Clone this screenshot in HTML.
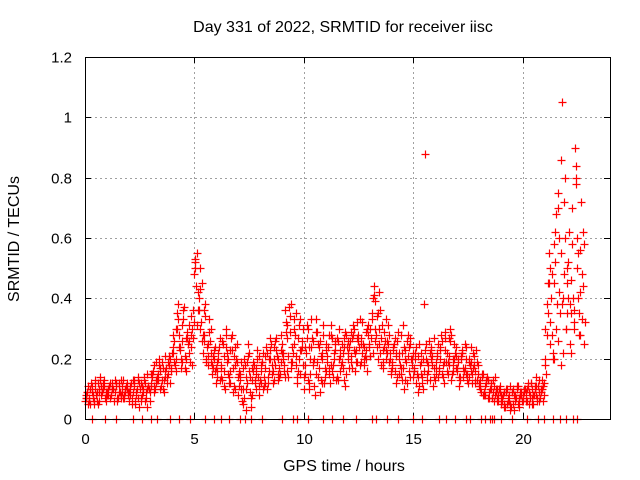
<!DOCTYPE html>
<html><head><meta charset="utf-8"><style>
body{margin:0;background:#fff}
svg{display:block;font-family:"Liberation Sans",sans-serif}
</style></head><body>
<svg id="chart" width="640" height="480">
<text x="343" y="32" font-size="16" text-anchor="middle">Day 331 of 2022, SRMTID for receiver iisc</text>
<text x="344" y="471" font-size="16" text-anchor="middle">GPS time / hours</text>
<text x="0" y="0" font-size="16" text-anchor="middle" transform="translate(19,239) rotate(-90)">SRMTID / TECUs</text>
<g id="grid"></g><g id="ticks"></g><g id="marks"></g>
<rect x="85.5" y="57.5" width="525" height="362" fill="none" stroke="#000" stroke-width="1"/>
</svg>
<script>
const xTicks=[0,5,10,15,20];
const yTicks=[0,0.2,0.4,0.6,0.8,1,1.2];
const yTickLabels=["0","0.2","0.4","0.6","0.8","1","1.2"];
const seriesA=[.06,.09,.07,.11,.05,.08,.12,.14,.10,.07,.09,.11,.08,.10,.12,.07,.09,.11,.08,.10,.06,.12,.09,.05,.14,.10,.08,.13,.07,.11,.12,.16,.10,.14,.18,.13,.09,.17,.15,.20,.22,.18,.35,.28,.20,.33,.16,.25,.19,.30,.48,.55,.40,.32,.22,.38,.18,.26,.15,.20,.12,.22,.17,.25,.10,.19,.14,.28,.11,.20,.08,.15,.05,.18,.12,.22,.07,.16,.10,.14,.13,.19,.11,.22,.16,.25,.12,.18,.20,.15,.25,.18,.32,.14,.38,.22,.28,.12,.20,.26,.10,.22,.30,.15,.26,.08,.19,.24,.13,.28,.16,.24,.12,.27,.20,.14,.30,.18,.22,.11,.20,.26,.17,.30,.23,.28,.19,.25,.21,.16,.24,.33,.44,.28,.20,.36,.17,.26,.22,.19,.15,.24,.12,.29,.18,.22,.10,.26,.16,.20,.14,.22,.09,.18,.12,.38,.20,.16,.24,.11,.13,.21,.17,.26,.12,.19,.15,.30,.18,.22,.16,.11,.20,.14,.24,.12,.18,.15,.21,.13,.12,.09,.15,.08,.13,.10,.07,.11,.09,.06,.05,.08,.04,.10,.06,.09,.03,.07,.11,.08,.07,.10,.06,.09,.12,.05,.08,.11,.07,.10,.12,.28,.55,.40,.20,.62,.75,.35,1.05,.48,.30,.52,.22,.40,.90,.60,.35,.48,.25];
const seriesB=[.08,.05,.10,.07,.12,.09,.06,.11,.13,.08,.10,.07,.12,.09,.06,.11,.08,.13,.10,.09,.11,.07,.13,.09,.04,.12,.10,.06,.15,.09,.14,.11,.19,.13,.16,.10,.21,.14,.18,.16,.26,.20,.38,.24,.31,.17,.27,.22,.28,.36,.53,.42,.30,.45,.26,.19,.33,.22,.17,.24,.16,.27,.13,.21,.30,.15,.23,.09,.18,.25,.11,.19,.07,.14,.25,.09,.17,.12,.20,.08,.16,.10,.21,.14,.27,.18,.13,.23,.17,.28,.20,.36,.16,.29,.24,.33,.18,.27,.15,.30,.18,.27,.12,.33,.20,.15,.25,.09,.22,.17,.21,.15,.28,.18,.25,.13,.23,.19,.27,.15,.24,.19,.31,.22,.27,.18,.32,.24,.20,.28,.30,.22,.39,.34,.25,.18,.29,.23,.31,.20,.19,.27,.14,.22,.17,.31,.13,.21,.25,.18,.17,.12,.25,.15,.20,.88,.13,.22,.18,.27,.19,.14,.24,.18,.29,.16,.21,.13,.25,.17,.20,.14,.23,.17,.13,.19,.16,.22,.12,.18,.10,.14,.08,.12,.07,.10,.13,.08,.06,.09,.07,.04,.09,.06,.11,.05,.08,.10,.06,.09,.09,.06,.11,.08,.05,.10,.07,.13,.09,.06,.18,.35,.25,.48,.58,.30,.42,.86,.22,.60,.45,.38,.70,.32,.84,.55,.28,.62];
const seriesC=[.07,.10,.06,.09,.11,.08,.10,.12,.07,.09,.09,.12,.07,.11,.10,.15,.12,.17,.13,.18,.24,.30,.19,.27,.34,.50,.36,.28,.21,.18,.19,.14,.24,.12,.21,.16,.10,.19,.13,.17,.18,.12,.20,.24,.15,.22,.31,.19,.35,.23,.14,.24,.19,.29,.12,.23,.18,.26,.20,.24,.22,.27,.19,.25,.29,.21,.41,.30,.23,.26,.17,.22,.15,.20,.24,.16,.21,.14,.19,.23,.15,.23,.19,.27,.20,.17,.22,.15,.19,.16,.11,.08,.13,.07,.10,.06,.09,.05,.08,.07,.08,.10,.07,.11,.09,.30,.45,.20,.70,.38,.50,.35,.80,.42,.58];
const seriesD=[.09,.06,.12,.08,.10,.05,.13,.09,.11,.06,.11,.08,.10,.13,.07,.12,.09,.07,.11,.08,.08,.13,.06,.10,.12,.07,.14,.09,.11,.06,.15,.09,.13,.20,.11,.17,.14,.19,.12,.22,.19,.30,.24,.17,.36,.21,.29,.26,.18,.32,.44,.36,.50,.28,.34,.24,.29,.19,.23,.17,.20,.13,.26,.16,.22,.12,.27,.17,.24,.14,.13,.06,.20,.10,.16,.04,.19,.13,.23,.11,.19,.14,.24,.12,.20,.16,.26,.21,.14,.23,.16,.29,.21,.34,.19,.25,.14,.31,.23,.18,.24,.13,.20,.27,.11,.29,.17,.21,.31,.14,.19,.28,.16,.22,.13,.26,.21,.17,.29,.24,.17,.29,.23,.19,.26,.33,.22,.18,.30,.25,.27,.40,.26,.35,.22,.31,.24,.20,.28,.16,.23,.16,.26,.20,.13,.24,.19,.28,.14,.22,.20,.15,.11,.22,.16,.25,.18,.13,.21,.17,.22,.16,.28,.14,.23,.19,.26,.15,.20,.24,.14,.21,.17,.25,.15,.20,.12,.18,.23,.15,.13,.08,.11,.14,.09,.12,.06,.10,.08,.11,.06,.09,.05,.08,.04,.10,.07,.05,.09,.06,.10,.07,.05,.12,.08,.11,.06,.09,.13,.08,.15,.45,.32,.22,.52,.38,.60,.18,.72,.30,.40,.25,.58,.36,.50,.28,.72,.44,.32];
const seriesE=[.07,.11,.05,.09,.13,.06,.10,.08,.12,.09,.08,.12,.10,.06,.11,.09,.13,.07,.10,.12,.10,.05,.11,.08,.13,.06,.09,.12,.04,.10,.11,.18,.13,.15,.10,.19,.16,.12,.21,.17,.28,.16,.33,.23,.26,.37,.20,.31,.24,.27,.52,.31,.43,.26,.36,.20,.25,.30,.21,.16,.14,.24,.18,.11,.28,.20,.16,.23,.10,.19,.15,.10,.17,.03,.21,.14,.08,.18,.15,.21,.12,.22,.17,.10,.23,.15,.20,.27,.13,.19,.22,.14,.27,.37,.17,.30,.21,.16,.33,.24,.15,.31,.10,.24,.18,.33,.14,.26,.20,.12,.25,.17,.31,.14,.23,.27,.16,.25,.13,.28,.26,.21,.28,.16,.32,.24,.27,.20,.23,.31,.21,.35,.30,.24,.42,.27,.19,.33,.25,.22,.18,.25,.21,.15,.28,.17,.23,.12,.27,.20,.16,.24,.14,.19,.10,.23,.15,.26,.20,.14,.17,.25,.20,.15,.27,.22,.18,.28,.16,.21,.19,.13,.22,.16,.20,.14,.24,.17,.13,.19,.11,.15,.09,.13,.07,.12,.09,.14,.07,.10,.08,.05,.10,.07,.03,.09,.06,.11,.04,.08,.06,.09,.12,.07,.10,.08,.14,.06,.10,.11,.20,.38,.50,.28,.45,.68,.26,.55,.40,.80,.35,.62,.46,.30,.78,.40,.56,.33];
const zeroTimes=[0.3,0.9,1.4,2.2,2.6,3.0,3.3,3.9,4.3,4.8,5.5,5.9,6.2,6.6,7.1,7.3,7.6,8.1,9.0,9.5,9.7,10.2,10.9,11.3,11.8,12.4,13.1,13.3,13.8,14.3,15.0,15.4,16.2,16.5,16.9,17.4,17.6,18.1,18.3,18.5,18.6,18.7,19.0,19.5,20.2,20.7,21.0,21.4,21.7,22.0,22.3,22.5];
const NS='http://www.w3.org/2000/svg';
const X0=85,X1=610,Y0=419,Y1=57,XMAX=24,YMAX=1.2;
function xs(t){return X0+t/XMAX*(X1-X0);}
function ys(v){return Y0-v/YMAX*(Y0-Y1);}
function mk(tag,attrs,parent){const e=document.createElementNS(NS,tag);for(const k in attrs)e.setAttribute(k,attrs[k]);parent.appendChild(e);return e;}
const grid=document.getElementById('grid'),ticks=document.getElementById('ticks'),marks=document.getElementById('marks');
xTicks.forEach((t,i)=>{
  const x=Math.round(xs(t))+0.5;
  if(t>0){const g=mk('line',{x1:x,x2:x,y1:Y1,y2:Y0,stroke:'#a0a0a0','stroke-dasharray':'2,3'},grid);
  
  }
  mk('line',{x1:x,x2:x,y1:Y0,y2:Y0-6,stroke:'#000'},ticks);
  mk('line',{x1:x,x2:x,y1:Y1,y2:Y1+6,stroke:'#000'},ticks);
  const l=mk('text',{x:x,y:444,'font-size':15,'text-anchor':'middle'},ticks);
  l.textContent=String(t);
  
  
});
yTicks.forEach((v,i)=>{
  const y=Math.round(ys(v))+0.5;
  if(v>0&&v<YMAX){const g=mk('line',{x1:X0,x2:X1,y1:y,y2:y,stroke:'#a0a0a0','stroke-dasharray':'2,3'},grid);
  
  }
  mk('line',{x1:X0,x2:X0+6,y1:y,y2:y,stroke:'#000'},ticks);
  mk('line',{x1:X1,x2:X1-6,y1:y,y2:y,stroke:'#000'},ticks);
  const l=mk('text',{x:72,y:y+5,'font-size':15,'text-anchor':'end'},ticks);
  l.textContent=yTickLabels[i];
  
  
});
function plus(t,v,name){
  const x=Math.round(xs(t))+0.5,y=Math.round(ys(v))+0.5;
  const p=mk('path',{d:`M${x-4},${y}h8M${x},${y-4}v8`,stroke:'#ff0000','stroke-width':1.2,fill:'none'},marks);
  
  
}
seriesA.forEach((v,i)=>plus(i*0.1,v,'srmtid-point'));
seriesB.forEach((v,i)=>plus(0.05+i*0.1,v,'srmtid-point'));
seriesC.forEach((v,i)=>plus(0.025+i*0.2,v,'srmtid-point'));
seriesD.forEach((v,i)=>plus(0.075+i*0.1,v,'srmtid-point'));
seriesE.forEach((v,i)=>plus(0.0375+i*0.1,v,'srmtid-point'));
zeroTimes.forEach(t=>plus(t,0,'zero-point'));
</script>
</body></html>
